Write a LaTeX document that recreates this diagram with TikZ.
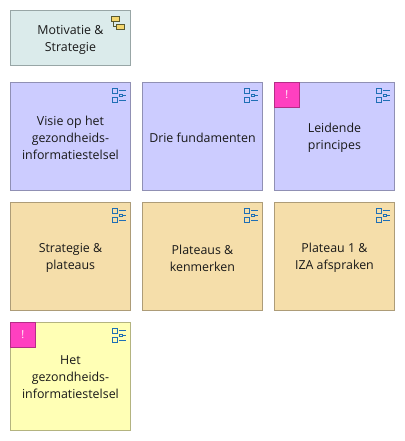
\documentclass[tikz,border=0pt]{standalone}
\usepackage{fontspec}
\setmainfont{Open Sans}
\definecolor{tealfill}{HTML}{DBEBEB}
\definecolor{tealline}{HTML}{98A6A6}
\definecolor{bluefill}{HTML}{CCCCFF}
\definecolor{blueline}{HTML}{9090B4}
\definecolor{tanfill}{HTML}{F5DEAA}
\definecolor{tanline}{HTML}{AD9C78}
\definecolor{yelfill}{HTML}{FFFFB5}
\definecolor{yelline}{HTML}{B4B480}
\definecolor{pinkfill}{HTML}{FF40C0}
\definecolor{pinkline}{HTML}{B42D87}
\definecolor{iconblue}{HTML}{1F6FB5}
\definecolor{iconyel}{HTML}{F5D76E}
\definecolor{iconline}{HTML}{5A5A30}
\tikzset{
  card/.style={draw=#1, line width=0.9pt, anchor=north west, minimum width=120pt, minimum height=108pt, inner sep=0pt},
  cardtext/.style={inner sep=0pt, align=center, font=\fontsize{12.4pt}{17pt}\selectfont, text=black!90},
  flag/.style={draw=pinkline, fill=pinkfill, line width=0.9pt, anchor=north west, minimum width=25pt,
    minimum height=25pt, inner sep=0pt, text=white, font=\fontsize{11pt}{12pt}\selectfont},
  viewicon/.pic={
    \draw[iconblue, line width=0.9pt] (-18.5,6.5) rectangle (-13.5,11.5);
    \draw[iconblue, line width=0.9pt] (-18.5,15) rectangle (-13.5,20);
    \draw[iconblue, line width=0.9pt] (-12,8) -- (-5,8);
    \draw[iconblue, line width=0.9pt] (-12,18) -- (-5,18);
    \draw[iconblue, line width=0.9pt] (-11,12) rectangle (-8.5,14);
    \draw[iconblue, line width=0.9pt] (-8.5,13) -- (-5,13);
  }
}
\begin{document}
\begin{tikzpicture}[x=1pt,y=-1pt]
\useasboundingbox (0,0) rectangle (404,441);
\fill[white] (0,0) rectangle (404,441);
\node[card=tealline, fill=tealfill, minimum height=55pt] (mot) at (10,10) {};
\node[cardtext] (mott) at ([yshift=-1.5pt]mot.center) {Motivatie \&\\Strategie};
\draw[iconline, fill=iconyel, line width=0.8pt] (111.7,16) rectangle (119.3,21.7);
\draw[iconline, fill=iconyel, line width=0.8pt] (116.7,24) rectangle (124,29.3);
\draw[iconline, line width=0.8pt] (113.5,21.7) -- (113.5,26.5) -- (116.7,26.5);
\node[card=blueline, fill=bluefill] (visie) at (10,82) {};
\node[cardtext] (visiet) at ([yshift=-1pt]visie.center) {Visie op het\\gezondheids-\\informatiestelsel};
\node[card=blueline, fill=bluefill] (drie) at (142,82) {};
\node[cardtext] (driet) at ([yshift=-1pt]drie.center) {Drie fundamenten};
\node[card=blueline, fill=bluefill] (leid) at (274,82) {};
\node[cardtext] (leidt) at ([yshift=-1.5pt]leid.center) {Leidende\\principes};
\node[card=tanline, fill=tanfill] (strat) at (10,202) {};
\node[cardtext] (stratt) at ([yshift=-1.5pt]strat.center) {Strategie \&\\plateaus};
\node[card=tanline, fill=tanfill] (plat) at (142,202) {};
\node[cardtext] (platt) at ([yshift=-1.5pt]plat.center) {Plateaus \&\\kenmerken};
\node[card=tanline, fill=tanfill] (iza) at (274,202) {};
\node[cardtext] (izat) at ([yshift=-1.5pt]iza.center) {Plateau 1 \&\\IZA afspraken};
\node[card=yelline, fill=yelfill] (het) at (10,322) {};
\node[cardtext] (hett) at ([yshift=-1pt]het.center) {Het\\gezondheids-\\informatiestelsel};
\node[flag] (f1) at (274,82) {!};
\node[flag] (f2) at (10,322) {!};
\foreach \n in {visie,drie,leid,strat,plat,iza,het}
  \path (\n.north east) pic {viewicon};
\end{tikzpicture}
\end{document}
